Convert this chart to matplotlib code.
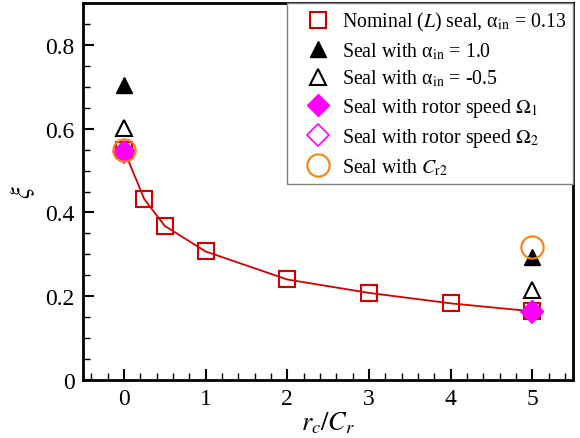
import matplotlib
matplotlib.use('Agg')
import matplotlib.pyplot as plt
from matplotlib.ticker import MultipleLocator

plt.rcParams['font.family'] = ['Liberation Serif', 'DejaVu Serif']
plt.rcParams['mathtext.fontset'] = 'stix'

# nominal seal curve
rc_nom = [0, 0.25, 0.5, 1, 2, 3, 4, 5]
xi_nom = [0.55, 0.432, 0.368, 0.307, 0.240, 0.208, 0.183, 0.164]

# variant seals, evaluated at rc/Cr = 0 and 5
rc_var = [0, 5]
xi_alpha_hi = [0.705, 0.293]
xi_alpha_lo = [0.602, 0.215]
xi_omega1 = [0.546, 0.164]
xi_omega2 = [0.545, 0.162]
xi_cr2 = [0.548, 0.318]

red = '#d40000'
magenta = '#ff00ff'
orange = '#ff7f0e'

fig = plt.figure(figsize=(5.8, 4.39), dpi=100)
ax = fig.add_axes([0.1431, 0.1321, 0.845, 0.8588])

ax.plot(rc_nom, xi_nom, '-', color=red, lw=1.3, zorder=2)
ax.plot(rc_nom, xi_nom, 's', ms=12, mfc='none', mec=red, mew=1.5, zorder=3,
        label=r'Nominal ($L$) seal, α$_{\rm in}$ = 0.13')
ax.plot(rc_var, xi_alpha_hi, '^', ms=12, color='black', zorder=4,
        label=r'Seal with α$_{\rm in}$ = 1.0')
ax.plot(rc_var, xi_alpha_lo, '^', ms=12, mfc='none', mec='black', mew=1.5, zorder=4,
        label=r'Seal with α$_{\rm in}$ = -0.5')
ax.plot(rc_var, xi_omega1, 'D', ms=11, color=magenta, zorder=5,
        label=r'Seal with rotor speed $\Omega_1$')
ax.plot(rc_var, xi_omega2, 'D', ms=11, mfc='none', mec=magenta, mew=1.2, zorder=5,
        label=r'Seal with rotor speed $\Omega_2$')
ax.plot(rc_var, xi_cr2, 'o', ms=16, mfc='none', mec=orange, mew=1.5, zorder=6,
        label=r'Seal with $C_{\rm r2}$')

ax.set_xlim(-0.5, 5.5)
ax.set_ylim(0, 0.9)
ax.xaxis.set_major_locator(MultipleLocator(1))
ax.xaxis.set_minor_locator(MultipleLocator(0.2))
ax.yaxis.set_minor_locator(MultipleLocator(0.05))
ax.set_yticks([0, 0.2, 0.4, 0.6, 0.8])
ax.set_yticklabels(['0', '0.2', '0.4', '0.6', '0.8'])
ax.tick_params(which='major', direction='in', length=8, width=1.5, labelsize=17,
               top=False, right=False, pad=6)
ax.tick_params(which='minor', direction='in', length=5, width=1,
               top=False, right=False)
for s in ax.spines.values():
    s.set_linewidth(2)

ax.set_xlabel(r'$r_c/C_r$', fontsize=19, labelpad=0)
ax.set_ylabel(r'$\xi$', fontsize=19, labelpad=6)

leg = ax.legend(loc='upper right', bbox_to_anchor=(1, 1), borderaxespad=0,
                fontsize=14.3, frameon=True, fancybox=False, edgecolor='#808080',
                framealpha=1, handlelength=2.4, handletextpad=0.0,
                labelspacing=0.36, borderpad=0.35, numpoints=1)
leg.get_frame().set_linewidth(1)

fig.savefig('out.png', dpi=100)
